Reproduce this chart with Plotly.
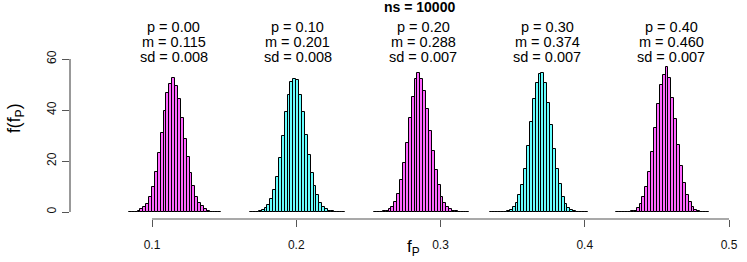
import numpy as np
import plotly.graph_objects as go

# ---------------- data ----------------
bin_width = 0.002
p_labels = ["0.00", "0.10", "0.20", "0.30", "0.40"]
m_values = [0.115, 0.201, 0.288, 0.374, 0.460]
sd_values = [0.008, 0.008, 0.007, 0.007, 0.007]
first_bin = [0.084, 0.168, 0.254, 0.334, 0.422]

dens_p00 = [0.05, 0.05, 0.1,
            0.4, 1.0, 1.8, 3.1, 5.8, 9.7, 15.6, 23.0, 31.1, 39.6, 46.8, 50.2, 52.4,
            49.4, 44.2, 36.7, 28.5, 21.4, 15.2, 10.2, 6.0, 3.7, 2.4, 1.0, 0.4,
            0.15, 0.1, 0.05, 0.05]
dens_p10 = [0.05, 0.1, 0.15,
            0.4, 0.8, 1.7, 2.9, 5.1, 8.6, 13.9, 21.0, 29.8, 39.3, 45.8, 50.8, 52.2,
            51.8, 45.9, 39.2, 30.2, 22.4, 15.4, 10.3, 6.7, 3.7, 2.1, 1.0, 0.4,
            0.2, 0.1, 0.05, 0.05, 0.05]
dens_p20 = [0.05, 0.05, 0.1, 0.2,
            0.4, 1.0, 2.1, 4.1, 7.1, 12.5, 19.3, 27.2, 36.7, 45.0, 52.0, 54.4,
            52.0, 47.6, 40.3, 31.9, 24.1, 16.5, 10.6, 6.0, 3.4, 1.8, 1.0, 0.4,
            0.2, 0.1, 0.05, 0.05, 0.05]
dens_p30 = [0.05, 0.05, 0.05, 0.05, 0.1, 0.15, 0.25,
            0.7, 1.8, 3.4, 6.7, 10.6, 17.0, 25.9, 35.4, 44.2, 50.7, 54.0, 54.6,
            50.5, 42.6, 34.1, 24.6, 16.7, 11.0, 6.0, 3.1, 1.6, 0.8, 0.3,
            0.15, 0.1, 0.05, 0.05]
dens_p40 = [0.05, 0.05, 0.05, 0.1, 0.15, 0.25,
            0.5, 1.4, 3.0, 5.8, 9.9, 15.8, 23.7, 32.8, 42.2, 49.8, 53.7, 56.8,
            52.4, 44.6, 36.3, 26.3, 18.0, 11.4, 6.7, 3.9, 2.0, 0.6,
            0.2, 0.1, 0.05, 0.05]
densities = [dens_p00, dens_p10, dens_p20, dens_p30, dens_p40]

x_ticks = [0.1, 0.2, 0.3, 0.4, 0.5]
x_ticktext = ["0.1", "0.2", "0.3", "0.4", "0.5"]
y_ticks = [0, 20, 40, 60]
y_ticktext = ["0", "20", "40", "60"]

title_text = "ns = 10000"

# ---------------- styles ----------------
MAG = "#FF66FF"
CYA = "#66FFFF"
fills = [MAG, CYA, MAG, CYA, MAG]
FONT = "Liberation Sans, Arial, sans-serif"
AXC = "#555555"

W, H = 747, 262
L, R, T, B = 70, 7, 15, 43
px_per_x = 1442.5
px_per_y = 2.55
y0_px = 212  # pixel row of density 0
x_range = [0.1 - (152 - L) / px_per_x, 0.5 + (W - R - 729) / px_per_x]
y_range = [-(H - B - y0_px) / px_per_y, (y0_px - T) / px_per_y]

fig = go.Figure()
for dens, x0, col in zip(densities, first_bin, fills):
    xc = x0 + bin_width * (np.arange(len(dens)) + 0.5)
    fig.add_trace(go.Bar(
        x=xc, y=dens, width=bin_width,
        marker=dict(color=col, line=dict(color="black", width=1)),
        showlegend=False, hoverinfo="skip"))

annotations = []
line_y = [72.55, 66.67, 60.78]
for p, m, sd in zip(p_labels, m_values, sd_values):
    texts = [f"p = {p}", f"m = {m:.3f}", f"sd = {sd:.3f}"]
    for t, yy in zip(texts, line_y):
        annotations.append(dict(x=m, y=yy, xref="x", yref="y", text=t,
                                showarrow=False, xanchor="center", yanchor="middle",
                                font=dict(family=FONT, size=14.5, color="black")))

pw = W - L - R
ph = H - T - B
def px_to_paper_x(px):
    return (px - L) / pw
def px_to_paper_y(py):
    return (H - B - py) / ph

annotations.append(dict(x=px_to_paper_x(419), y=px_to_paper_y(7), xref="paper", yref="paper",
                        text=f"<b>{title_text}</b>", showarrow=False,
                        xanchor="center", yanchor="middle",
                        font=dict(family=FONT, size=14, color="black")))
annotations.append(dict(x=px_to_paper_x(413), y=px_to_paper_y(248), xref="paper", yref="paper",
                        text="f<sub>P</sub>", showarrow=False,
                        xanchor="center", yanchor="middle",
                        font=dict(family=FONT, size=17, color="black")))
annotations.append(dict(x=px_to_paper_x(15), y=px_to_paper_y(118), xref="paper", yref="paper",
                        text="f(f<sub>P</sub>)", showarrow=False, textangle=-90,
                        xanchor="center", yanchor="middle",
                        font=dict(family=FONT, size=17.5, color="black")))

shapes = [
    dict(type="line", xref="x", yref="paper", x0=x_ticks[0], x1=x_ticks[-1], y0=0, y1=0,
         line=dict(color=AXC, width=1.2), layer="above"),
    dict(type="line", xref="paper", yref="y", x0=0, x1=0, y0=y_ticks[0], y1=y_ticks[-1],
         line=dict(color=AXC, width=1.2), layer="above"),
]

fig.update_layout(
    width=W, height=H,
    margin=dict(l=L, r=R, t=T, b=B, pad=0, autoexpand=False),
    paper_bgcolor="white", plot_bgcolor="white",
    barmode="overlay", bargap=0,
    font=dict(family=FONT, size=12, color="black"),
    xaxis=dict(range=x_range, tickvals=x_ticks, ticktext=x_ticktext, automargin=False,
               ticks="outside", ticklen=7, tickcolor=AXC, tickwidth=1,
               showline=False, showgrid=False, zeroline=False,
               tickfont=dict(family=FONT, size=12, color="#111111"),
               ticklabelstandoff=8),
    yaxis=dict(range=y_range, tickvals=y_ticks, ticktext=y_ticktext, automargin=False,
               ticks="outside", ticklen=7, tickcolor=AXC, tickwidth=1,
               tickangle=-90,
               showline=False, showgrid=False, zeroline=False,
               tickfont=dict(family=FONT, size=12, color="#111111"),
               ticklabelstandoff=1),
    annotations=annotations,
    shapes=shapes,
)

fig.write_html("out.html", config={"displayModeBar": False},
               post_script="document.body.style.margin='0';document.body.style.padding='0';")
